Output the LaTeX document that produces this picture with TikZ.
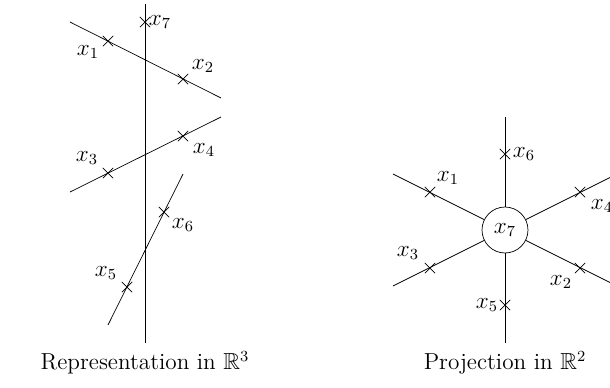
\documentclass[tikz,border=0pt]{standalone}
\usepackage{amssymb}
\usetikzlibrary{shapes.misc}

\begin{document}
\begin{tikzpicture}[
        x=0.02cm, y=-0.02cm,
        crossmark/.style = {draw, cross out, minimum size=5.5pt, inner sep=0pt, thin},
        lbl/.style = {inner sep=1pt, font=\large, scale=1.1},
        caption/.style = {font=\large, scale=1.1},
        ray/.style = {-, thin},
        center/.style = {draw, circle, minimum size=0.92cm, inner sep=0pt}
    ]
    \useasboundingbox (0,0) rectangle (610,387);

    % Panel A: representation in R^3
    \coordinate (Vt) at (145,4);
    \coordinate (Vb) at (145,343);
    \coordinate (L1a) at (70,22);
    \coordinate (L1b) at (221,98);
    \coordinate (L2a) at (70,192);
    \coordinate (L2b) at (221,117);
    \coordinate (L3a) at (108,325);
    \coordinate (L3b) at (183,174);

    \draw[ray] (Vt) -- (Vb);
    \draw[ray] (L1a) -- (L1b);
    \draw[ray] (L2a) -- (L2b);
    \draw[ray] (L3a) -- (L3b);

    \node[crossmark] (A7) at (145,22) {};
    \node[crossmark] (A1) at (108,41) {};
    \node[crossmark] (A2) at (183,79) {};
    \node[crossmark] (A3) at (108,173) {};
    \node[crossmark] (A4) at (183,136) {};
    \node[crossmark] (A6) at (164,212) {};
    \node[crossmark] (A5) at (127,287) {};

    \node[lbl] (a7) at (160,22) {$x_7$};
    \node[lbl] (a1) at (88,52) {$x_1$};
    \node[lbl] (a2) at (203,66) {$x_2$};
    \node[lbl] (a3) at (87,158) {$x_3$};
    \node[lbl] (a4) at (204,150) {$x_4$};
    \node[lbl] (a6) at (183,225) {$x_6$};
    \node[lbl] (a5) at (106,273) {$x_5$};

    \node[caption] (titleA) at (145,363) {Representation in $\mathbb{R}^3$};

    % Panel B: projection in R^2
    \node[center, font=\large] (C) at (505,230) {\scalebox{1.1}{$x_7$}};
    \coordinate (Bt) at (505,117);
    \coordinate (Bb) at (505,343);
    \coordinate (Bul) at (393,174);
    \coordinate (Bll) at (393,286);
    \coordinate (Bur) at (617,174);
    \coordinate (Blr) at (617,286);

    \draw[ray] (C) -- (Bt);
    \draw[ray] (C) -- (Bb);
    \draw[ray] (C) -- (Bul);
    \draw[ray] (C) -- (Bll);
    \draw[ray] (C) -- (Bur);
    \draw[ray] (C) -- (Blr);

    \node[crossmark] (B6) at (505,154) {};
    \node[crossmark] (B5) at (505,305) {};
    \node[crossmark] (B1) at (430,192) {};
    \node[crossmark] (B3) at (430,268) {};
    \node[crossmark] (B4) at (580,192) {};
    \node[crossmark] (B2) at (580,268) {};

    \node[lbl] (b6) at (524,154) {$x_6$};
    \node[lbl] (b5) at (487,305) {$x_5$};
    \node[lbl] (b1) at (448,178) {$x_1$};
    \node[lbl] (b3) at (408,253) {$x_3$};
    \node[lbl] (b4) at (602,206) {$x_4$};
    \node[lbl] (b2) at (561,282) {$x_2$};

    \node[caption] (titleB) at (505,363) {Projection in $\mathbb{R}^2$};
\end{tikzpicture}
\end{document}
